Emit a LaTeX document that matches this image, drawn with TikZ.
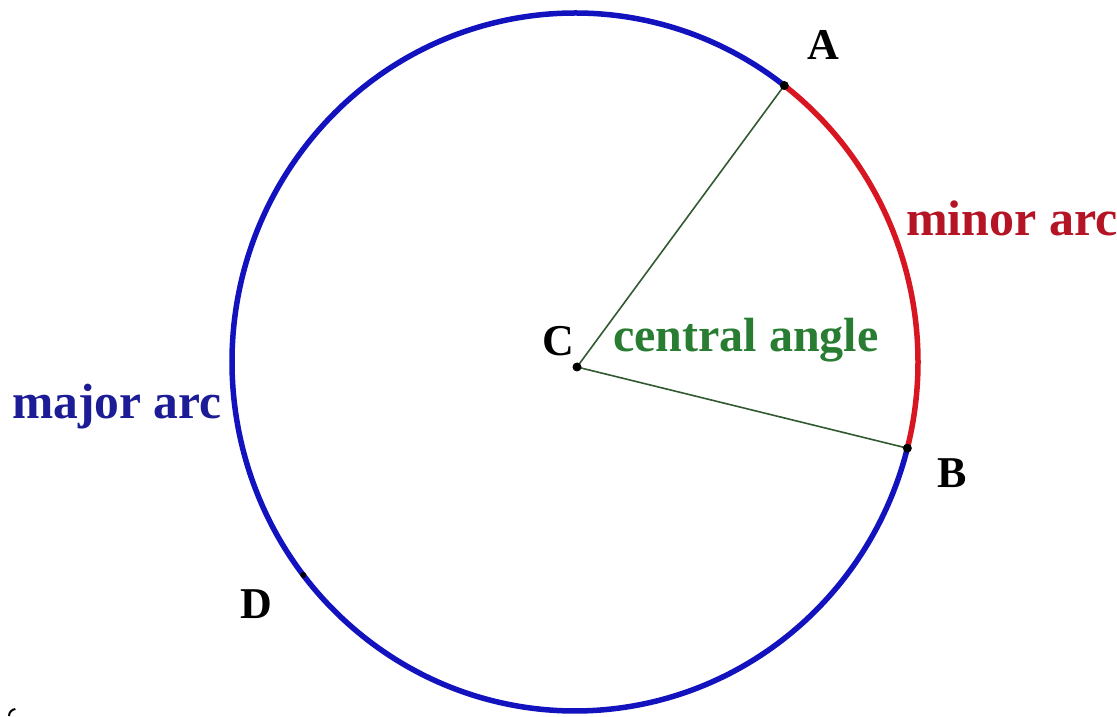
\documentclass[tikz,border=0pt]{standalone}
\usepackage{fontspec}
\setmainfont{Liberation Serif}
\usetikzlibrary{calc}
\definecolor{arcblue}{RGB}{18,18,190}
\definecolor{arcred}{RGB}{215,22,34}
\definecolor{lblblue}{RGB}{28,28,150}
\definecolor{lblred}{RGB}{180,20,35}
\definecolor{lblgreen}{RGB}{40,125,50}
\definecolor{raygreen}{RGB}{50,90,50}
\tikzset{
  majorarc/.style={draw=arcblue,line width=5.5pt},
  minorarc/.style={draw=arcred,line width=5.5pt},
  ray/.style={draw=raygreen,line width=1.6pt},
  ptdot/.style={circle,fill=black,inner sep=0pt,minimum size=9pt},
  ptlabel/.style={font=\bfseries\fontsize{44}{44}\selectfont,inner sep=0pt,anchor=base},
  arclabel/.style={inner sep=0pt,anchor=base west}
}
\begin{document}
\begin{tikzpicture}[x=1pt,y=1pt]
\useasboundingbox (0,0) rectangle (1117,716);
\fill[white] (0,0) rectangle (1117,716);
\coordinate (O) at (575,354);
\coordinate (A) at ($(O)+(52.4:343pt and 349pt)$);
\coordinate (B) at ($(O)+(-14.3:343pt and 349pt)$);
\coordinate (D) at ($(O)+(217.6:343pt and 349pt)$);
\coordinate (C) at (577,349);
% arcs
\draw[majorarc] (A) arc[start angle=52.4,end angle=345.7,x radius=343pt,y radius=349pt];
\draw[minorarc] (B) arc[start angle=-14.3,end angle=52.4,x radius=343pt,y radius=349pt];
% rays
\draw[ray] (C) -- (A);
\draw[ray] (C) -- (B);
% points
\node[ptdot] (pA) at (A) {};
\node[ptdot] (pB) at (B) {};
\node[ptdot] (pC) at (C) {};
\node[ptdot,minimum size=6pt] (pD) at (D) {};
% labels
\node[ptlabel] (lA) at (823,656) {A};
\node[ptlabel] (lB) at (952,229) {B};
\node[ptlabel] (lC) at (558,360) {C};
\node[ptlabel] (lD) at (256,98) {D};
\node[arclabel,text=lblred,font=\bfseries\fontsize{50}{50}\selectfont] (lminor) at (906,480) {minor arc};
\node[arclabel,text=lblgreen,font=\bfseries\fontsize{48}{48}\selectfont] (lcentral) at (613,364) {central angle};
\node[arclabel,text=lblblue,font=\bfseries\fontsize{49.5}{50}\selectfont] (lmajor) at (12,298) {major arc};
% stray mark
\draw[line width=2pt] (9,0) arc[start angle=180,end angle=95,radius=7];
\end{tikzpicture}
\end{document}
